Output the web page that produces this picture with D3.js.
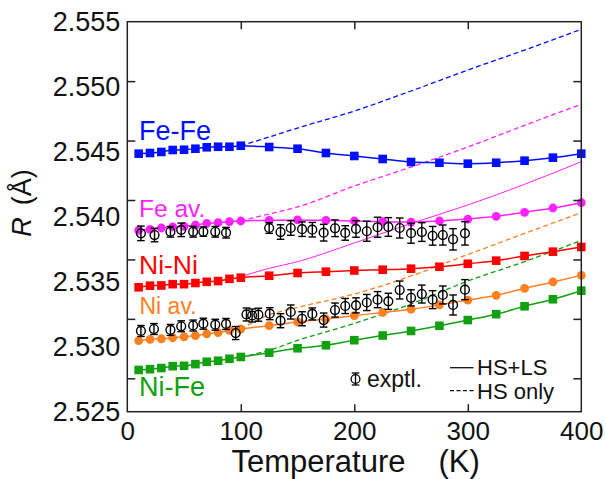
<!DOCTYPE html>
<html>
<head>
<meta charset="utf-8">
<script src="https://cdn.jsdelivr.net/npm/d3@7"></script>
<style>
  body { margin: 0; background: #fff; }
  svg text { font-family: "Liberation Sans", Arial, sans-serif; }
</style>
</head>
<body>
<svg id="chart" width="606" height="479"></svg>
<script>
// calculated temperatures (K)
const calcTemps = [10, 20, 30, 40, 50, 60, 70, 80, 90, 100, 125, 150, 175, 200, 225, 250, 275, 300, 325, 350, 375, 400];

// HS+LS results (Angstrom)
const feFe = [2.54485, 2.54490, 2.54498, 2.54513, 2.54515, 2.54523, 2.54534, 2.54538, 2.54538, 2.54546,
  2.54536, 2.54523, 2.54490, 2.54467, 2.54444, 2.54421, 2.54415, 2.54408, 2.54415, 2.54431, 2.54454, 2.54485];
const feAv = [2.53895, 2.53903, 2.53913, 2.53921, 2.53926, 2.53936, 2.53949, 2.53954, 2.53962, 2.53967,
  2.53972, 2.53975, 2.53972, 2.53967, 2.53962, 2.53959, 2.53967, 2.53982, 2.54003, 2.54034, 2.54067, 2.54108];
const niNi = [2.53457, 2.53469, 2.53471, 2.53481, 2.53481, 2.53490, 2.53499, 2.53505, 2.53522, 2.53531,
  2.53546, 2.53567, 2.53577, 2.53586, 2.53592, 2.53600, 2.53615, 2.53638, 2.53662, 2.53698, 2.53731, 2.53767];
const niAv = [2.53046, 2.53057, 2.53061, 2.53069, 2.53076, 2.53086, 2.53099, 2.53109, 2.53125, 2.53136,
  2.53162, 2.53190, 2.53213, 2.53239, 2.53263, 2.53288, 2.53322, 2.53359, 2.53395, 2.53449, 2.53498, 2.53549];
const niFe = [2.52821, 2.52827, 2.52836, 2.52850, 2.52853, 2.52866, 2.52884, 2.52892, 2.52907, 2.52921,
  2.52954, 2.52988, 2.53011, 2.53050, 2.53086, 2.53121, 2.53161, 2.53205, 2.53250, 2.53311, 2.53365, 2.53431];

// HS only results
const hsTemps = [100, 125, 150, 200, 250, 300, 350, 400];
const feFeHS = [2.54546, 2.54613, 2.54682, 2.54813, 2.54967, 2.55128, 2.55282, 2.55442];
const feAvHS = [2.53967, 2.54021, 2.54075, 2.54236, 2.54382, 2.54536, 2.54703, 2.54865];
const niAvHS = [2.53136, 2.53244, 2.53302, 2.53405, 2.53544, 2.53709, 2.53871, 2.54032];
const niFeHS = [2.52921, 2.52972, 2.53048, 2.53179, 2.53329, 2.53505, 2.53655, 2.53817];
// thin magenta solid curve
const extraCurve = [2.53539, 2.53603, 2.53654, 2.53798, 2.53948, 2.54090, 2.54249, 2.54423];

// experiment
const exptTempsUp = [12, 24, 38, 47.5, 58, 67, 77.5, 87, 125, 135, 144, 154, 163, 173, 183, 192, 201.5,
  211, 220.5, 230, 240, 250, 259.5, 269, 278, 287, 297.5];
const exptUp = [2.53872, 2.53859, 2.53884, 2.53899, 2.53884, 2.53885, 2.53884, 2.53877,
  2.53913, 2.53882, 2.53913, 2.53904, 2.53900, 2.53877, 2.53911, 2.53875, 2.53906, 2.53888, 2.53919,
  2.53921, 2.53913, 2.53873, 2.53882, 2.53853, 2.53859, 2.53826, 2.53872];
const exptUpErr = [0.00056, 0.00052, 0.00041, 0.00052, 0.00041, 0.00036, 0.00041, 0.00041,
  0.00041, 0.00056, 0.00056, 0.00056, 0.00056, 0.00064, 0.00064, 0.00056, 0.00064, 0.00077, 0.00077,
  0.00072, 0.00077, 0.00077, 0.00072, 0.00072, 0.00077, 0.00082, 0.00090];
const exptTempsLo = [12, 23.5, 38, 47.5, 58, 67, 77.5, 87, 95.5, 105, 110, 115.5, 125.5, 135, 144, 154,
  163, 173, 183, 192, 201.5, 211, 220.5, 230, 240, 250, 259.5, 269, 278, 287, 297.5];
const exptLo = [2.53121, 2.53136, 2.53129, 2.53157, 2.53163, 2.53177, 2.53169, 2.53175, 2.53105,
  2.53248, 2.53240, 2.53246, 2.53254, 2.53200, 2.53267, 2.53215, 2.53252, 2.53205, 2.53282, 2.53313,
  2.53318, 2.53340, 2.53362, 2.53349, 2.53436, 2.53376, 2.53405, 2.53362, 2.53398, 2.53321, 2.53439];
const exptLoErr = [0.00042, 0.00042, 0.00042, 0.00042, 0.00042, 0.00042, 0.00042, 0.00042, 0.0005,
  0.0005, 0.0005, 0.0005, 0.00046, 0.00054, 0.00054, 0.00054, 0.00046, 0.00054, 0.00054, 0.00058,
  0.00058, 0.00062, 0.00062, 0.00062, 0.00069, 0.00062, 0.00069, 0.00069, 0.00069, 0.00077, 0.00077];

const xTicks = [0, 100, 200, 300, 400];
const yTicks = [2.525, 2.530, 2.535, 2.540, 2.545, 2.550, 2.555];

const LEFT = 127.3, RIGHT = 581.3, TOP = 21.7, BOTTOM = 411.7;

const svg = d3.select("#chart");

const x = d3.scaleLinear().domain([0, 400]).range([LEFT, RIGHT]);
const y = d3.scaleLinear().domain([2.525, 2.555]).range([BOTTOM, TOP]);
// the tick marks in the original sit on a slightly different spacing than the labels
const yTick = d3.scaleLinear().domain([2.525, 2.555]).range([378.3, TOP]);

const zip = (ts, vs) => ts.map((t, i) => [t, vs[i]]);
const line = d3.line().x(d => x(d[0])).y(d => y(d[1])).curve(d3.curveMonotoneX);

// dashed HS-only curves
const dashed = [
  [feFeHS, "#0010ff"], [feAvHS, "#ff22ff"], [niAvHS, "#ff8020"], [niFeHS, "#10a010"]
];
dashed.forEach(([vals, col]) => {
  svg.append("path")
    .attr("d", line(zip(hsTemps, vals)))
    .attr("fill", "none")
    .attr("stroke", col)
    .attr("stroke-width", 1.3)
    .attr("stroke-dasharray", "5,3");
});

svg.append("path")
  .attr("d", line(zip(hsTemps, extraCurve)))
  .attr("fill", "none")
  .attr("stroke", "#ff22ff")
  .attr("stroke-width", 1);

// HS+LS series
const series = [
  { vals: feFe, col: "#0010ff", shape: "square" },
  { vals: feAv, col: "#ff22ff", shape: "circle" },
  { vals: niNi, col: "#ff0000", shape: "square" },
  { vals: niAv, col: "#ff8020", shape: "circle" },
  { vals: niFe, col: "#10a010", shape: "square" }
];
series.forEach(s => {
  const pts = zip(calcTemps, s.vals);
  svg.append("path")
    .attr("d", line(pts))
    .attr("fill", "none")
    .attr("stroke", s.col)
    .attr("stroke-width", 1.5);
  if (s.shape === "square") {
    svg.append("g").selectAll("rect")
      .data(pts)
      .enter()
      .append("rect")
      .attr("x", d => x(d[0]) - 4.3)
      .attr("y", d => y(d[1]) - 4.3)
      .attr("width", 8.6)
      .attr("height", 8.6)
      .attr("fill", s.col);
  } else {
    svg.append("g").selectAll("circle")
      .data(pts)
      .enter()
      .append("circle")
      .attr("cx", d => x(d[0]))
      .attr("cy", d => y(d[1]))
      .attr("r", 4.4)
      .attr("fill", s.col);
  }
});

// experimental points with error bars
function drawExpt(g, cx, cy, dy) {
  g.append("line").attr("x1", cx).attr("x2", cx).attr("y1", cy - dy).attr("y2", cy + dy);
  g.append("line").attr("x1", cx - 3.8).attr("x2", cx + 3.8).attr("y1", cy - dy).attr("y2", cy - dy);
  g.append("line").attr("x1", cx - 3.8).attr("x2", cx + 3.8).attr("y1", cy + dy).attr("y2", cy + dy);
  g.append("circle").attr("cx", cx).attr("cy", cy).attr("r", 4.4).attr("fill", "none");
}
const expt = svg.append("g").attr("stroke", "#000").attr("stroke-width", 1.4);
[[exptTempsUp, exptUp, exptUpErr], [exptTempsLo, exptLo, exptLoErr]].forEach(([ts, vs, es]) => {
  ts.forEach((t, i) => {
    const g = expt.append("g");
    drawExpt(g, x(t), y(vs[i]), y(vs[i] - es[i]) - y(vs[i]));
  });
});

// frame
svg.append("rect")
  .attr("x", LEFT).attr("y", TOP)
  .attr("width", RIGHT - LEFT).attr("height", BOTTOM - TOP)
  .attr("fill", "none")
  .attr("stroke", "#222")
  .attr("stroke-width", 1.5);

// tick marks (inward)
const tickStyle = g => {
  g.select(".domain").remove();
  g.selectAll("line").attr("stroke", "#222").attr("stroke-width", 1.5);
};
svg.append("g").attr("transform", `translate(0,${BOTTOM})`)
  .call(d3.axisBottom(x).tickValues([100, 200, 300]).tickSizeInner(-7.5).tickSizeOuter(0).tickFormat(""))
  .call(tickStyle);
svg.append("g").attr("transform", `translate(0,${TOP})`)
  .call(d3.axisTop(x).tickValues([100, 200, 300]).tickSizeInner(-7.5).tickSizeOuter(0).tickFormat(""))
  .call(tickStyle);
svg.append("g").attr("transform", `translate(${LEFT},0)`)
  .call(d3.axisLeft(yTick).tickValues(yTicks.slice(0, 6)).tickSizeInner(-8).tickSizeOuter(0).tickFormat(""))
  .call(tickStyle);
svg.append("g").attr("transform", `translate(${RIGHT},0)`)
  .call(d3.axisRight(yTick).tickValues(yTicks.slice(0, 6)).tickSizeInner(-8).tickSizeOuter(0).tickFormat(""))
  .call(tickStyle);

// tick labels
const xLab = svg.append("g").attr("transform", `translate(0,${BOTTOM})`)
  .call(d3.axisBottom(x).tickValues(xTicks).tickSize(0).tickPadding(10).tickFormat(d3.format("d")));
xLab.select(".domain").remove();
xLab.selectAll("text").attr("font-size", 26).attr("fill", "#111")
  .style("font-family", '"Liberation Sans", Arial, sans-serif');

const yLab = svg.append("g").attr("transform", `translate(${LEFT},0)`)
  .call(d3.axisLeft(y).tickValues(yTicks).tickSize(0).tickPadding(7).tickFormat(d3.format(".3f")));
yLab.select(".domain").remove();
yLab.selectAll("text").attr("font-size", 27).attr("fill", "#111")
  .style("font-family", '"Liberation Sans", Arial, sans-serif');

// axis titles
svg.append("text").attr("x", 231.5).attr("y", 471.5).attr("font-size", 31).attr("fill", "#111").text("Temperature");
svg.append("text").attr("x", 438.5).attr("y", 471.5).attr("font-size", 31).attr("fill", "#111").text("(K)");

const yt = svg.append("text")
  .attr("transform", "translate(31,203) rotate(-90)")
  .attr("text-anchor", "middle")
  .attr("font-size", 27)
  .attr("fill", "#111");
yt.append("tspan").attr("font-style", "italic").text("R");
yt.append("tspan").attr("dx", 12).text("(Å)");

// series labels
const seriesLabels = [
  ["Fe-Fe", "#0010ff", 139, 140, 27],
  ["Fe av.", "#ff22ff", 139, 216.5, 24.5],
  ["Ni-Ni", "#ff0000", 139, 274, 26.5],
  ["Ni av.", "#ff8020", 139.5, 314, 23],
  ["Ni-Fe", "#10a010", 139, 396, 27]
];
seriesLabels.forEach(([t, c, lx, ly, fs]) => {
  svg.append("text").attr("x", lx).attr("y", ly).attr("font-size", fs).attr("fill", c).text(t);
});

// legend
const leg = svg.append("g");
drawExpt(leg.append("g").attr("stroke", "#000").attr("stroke-width", 1.3), 355.5, 379, 6);
leg.append("text").attr("x", 367).attr("y", 386.5).attr("font-size", 23).attr("fill", "#111").text("exptl.");
leg.append("line").attr("x1", 450).attr("x2", 473.5).attr("y1", 367.7).attr("y2", 367.7)
  .attr("stroke", "#111").attr("stroke-width", 1.3);
leg.append("text").attr("x", 477).attr("y", 375).attr("font-size", 22).attr("fill", "#111").text("HS+LS");
leg.append("line").attr("x1", 450).attr("x2", 473.5).attr("y1", 390.7).attr("y2", 390.7)
  .attr("stroke", "#111").attr("stroke-width", 1.3).attr("stroke-dasharray", "4,2.5");
leg.append("text").attr("x", 477).attr("y", 399).attr("font-size", 22).attr("fill", "#111").text("HS only");
</script>
</body>
</html>
